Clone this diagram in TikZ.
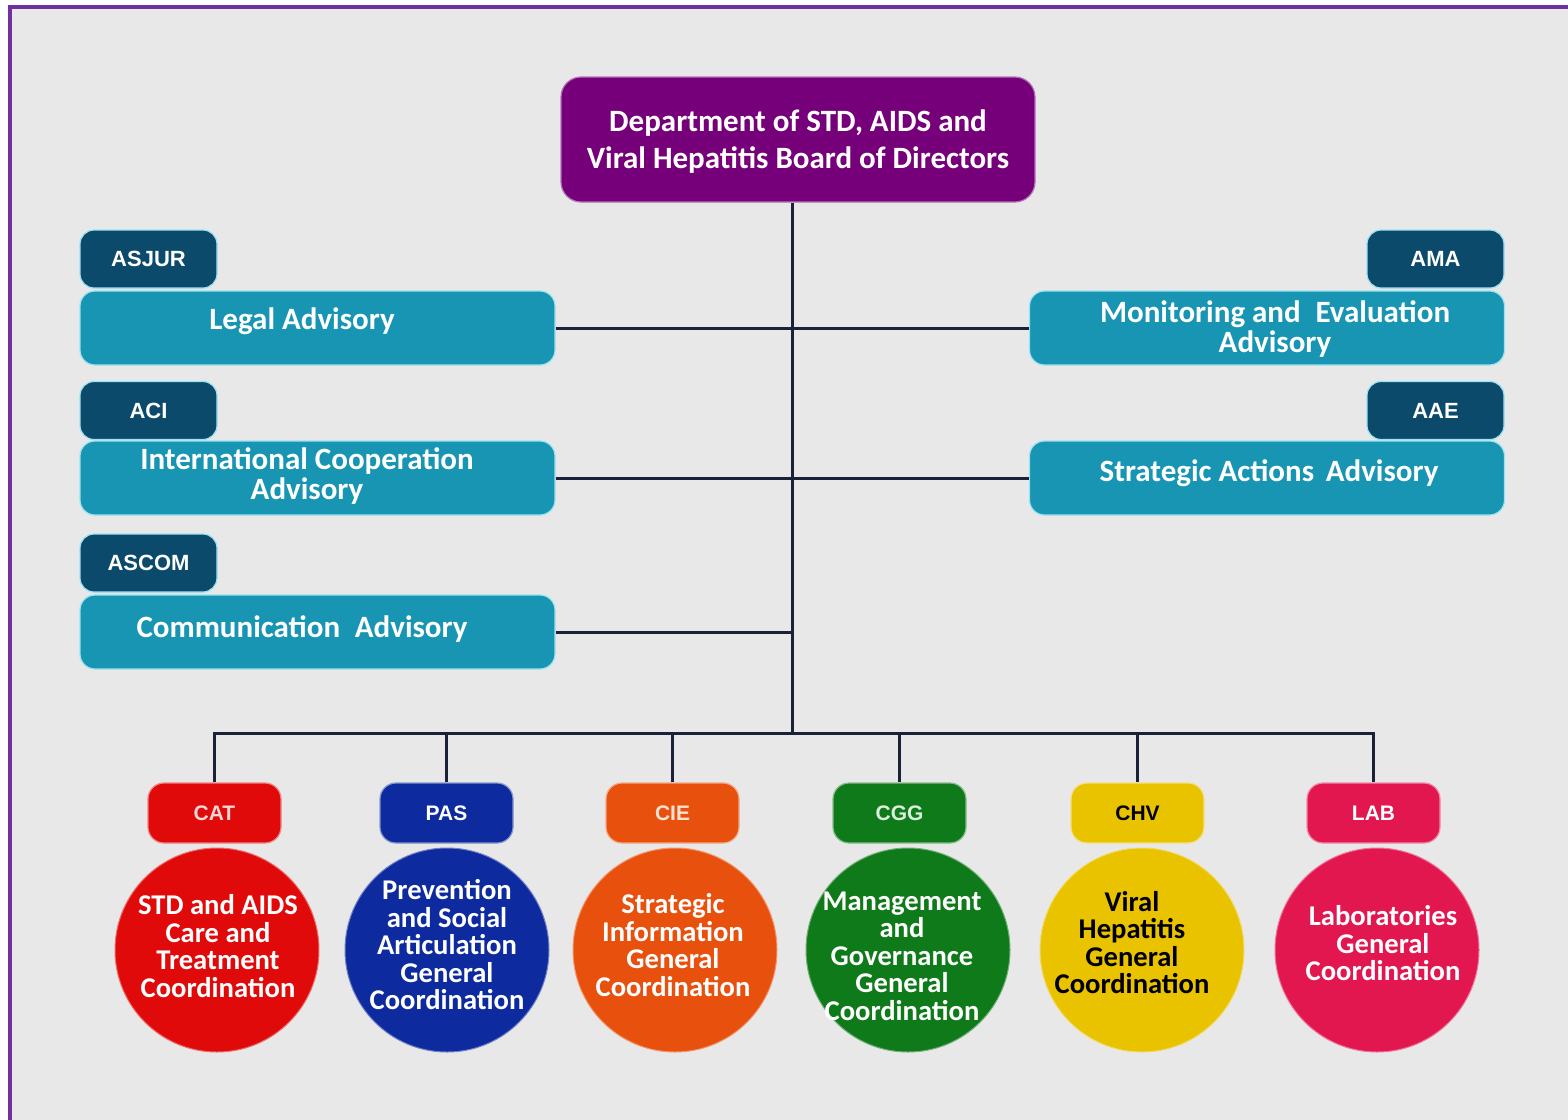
\documentclass[tikz,border=0pt]{standalone}
\usepackage{fontspec}
\setmainfont{Carlito}
\newfontfamily\arialf{Liberation Sans}
\definecolor{bgc}{HTML}{E8E8E8}
\definecolor{framec}{HTML}{7030A0}
\definecolor{topc}{HTML}{75007A}
\definecolor{tabdark}{HTML}{0B4A6B}
\definecolor{tealc}{HTML}{1795B3}
\definecolor{tealedge}{HTML}{9BE3F0}
\definecolor{linec}{HTML}{1B2238}
\definecolor{redc}{HTML}{E00A0A}
\definecolor{bluec}{HTML}{0D2A9E}
\definecolor{orangec}{HTML}{E8500E}
\definecolor{greenc}{HTML}{0F7A1A}
\definecolor{yellowc}{HTML}{E9C200}
\definecolor{crimsonc}{HTML}{E2174F}
\begin{document}
\begin{tikzpicture}[x=0.5pt,y=-0.5pt,
  topbox/.style={rounded corners=10pt, minimum width=237pt, minimum height=62.5pt, inner sep=0,
    fill=topc, draw=topc!55!white, line width=0.6pt},
  toptext/.style={text=white, align=center, inner sep=0,
    font=\bfseries\fontsize{15.5}{18.5}\selectfont},
  tabbox/.style={rounded corners=7pt, minimum width=68.5pt, minimum height=29pt, inner sep=0,
    fill=tabdark, draw=tealedge, line width=0.6pt, text=white,
    font=\arialf\bfseries\fontsize{11}{13}\selectfont},
  advbox/.style={rounded corners=7.5pt, minimum width=237.5pt, minimum height=37pt, inner sep=0,
    fill=tealc, draw=tealedge, line width=0.6pt},
  advtext/.style={text=white, align=center, inner sep=0,
    font=\bfseries\fontsize{15.5}{15}\selectfont},
  ctab/.style={rounded corners=8pt, minimum width=66.5pt, minimum height=30pt, inner sep=0,
    fill=#1, draw=#1!50!white, line width=0.6pt,
    font=\arialf\bfseries\fontsize{10.5}{12}\selectfont},
  circ/.style={circle, minimum size=102pt, inner sep=0,
    fill=#1, draw=#1!60!white, line width=0.5pt},
  ctext/.style={align=center, inner sep=0,
    font=\bfseries\fontsize{14.3}{13.75}\selectfont},
  conn/.style={draw=linec, line width=1.5pt}]
\useasboundingbox (0,0) rectangle (1568,1119);
\clip (0,0) rectangle (1568,1119);
\fill[white] (0,0) rectangle (1568,1119);
\fill[bgc] (10,7) rectangle (1600,1150);
\draw[framec, line width=2pt] (10,7) rectangle (1600,1150);

% trunk coordinate
\coordinate (bus) at (792,733);

% top
\node[topbox] (top) at (798,139.5) {};
\node[toptext] (topt) at (798,141.5) {Department of STD, AIDS and\\Viral Hepatitis Board of Directors};

% left advisories
\node[tabbox] (asjur) at (148.5,259) {ASJUR};
\node[advbox] (legal) at (317.5,328) {};
\node[advtext] (legalt) at (302,321) {Legal Advisory};

\node[tabbox] (aci) at (148.5,410.5) {ACI};
\node[advbox] (intl) at (317.5,478) {};
\node[advtext] (intlt) at (307,476) {International Cooperation\\Advisory};

\node[tabbox] (ascom) at (148.5,563) {ASCOM};
\node[advbox] (comm) at (317.5,632) {};
\node[advtext] (commt) at (302,629) {Communication\hspace{0.25em} Advisory};

% right advisories
\node[tabbox] (ama) at (1435.5,259) {AMA};
\node[advbox] (mande) at (1267,328) {};
\node[advtext] (mandet) at (1275,329) {Monitoring and\hspace{0.25em} Evaluation\\Advisory};

\node[tabbox] (aae) at (1435.5,410.5) {AAE};
\node[advbox] (strat) at (1267,478) {};
\node[advtext] (stratt) at (1269,473) {Strategic Actions\hspace{0.15em} Advisory};

% bottom tabs
\node[ctab=redc, text={rgb,255:red,245;green,214;blue,214}] (cat) at (214.5,813) {CAT};
\node[ctab=bluec, text=white] (pas) at (446.5,813) {PAS};
\node[ctab=orangec, text={rgb,255:red,248;green,226;blue,212}] (cie) at (672.5,813) {CIE};
\node[ctab=greenc, text={rgb,255:red,222;green,240;blue,222}] (cgg) at (899.5,813) {CGG};
\node[ctab=yellowc, text=black] (chv) at (1137.5,813) {CHV};
\node[ctab=crimsonc, text=white] (lab) at (1373.5,813) {LAB};

% circles
\node[circ=redc] (catc) at (217,950) {};
\node[circ=bluec] (pasc) at (447,950) {};
\node[circ=orangec] (ciec) at (675,950) {};
\node[circ=greenc] (cggc) at (908,950) {};
\node[circ=yellowc] (chvc) at (1142,950) {};
\node[circ=crimsonc] (labc) at (1377,950) {};

\node[ctext, text=white] (catt) at (218,946) {STD and AIDS\\Care and\\Treatment\\Coordination};
\node[ctext, text=white] (past) at (447,945) {Prevention\\and Social\\Articulation\\General\\Coordination};
\node[ctext, text=white] (ciet) at (673,945) {Strategic\\Information\\General\\Coordination};
\node[ctext, text=white] (cggt) at (902,956) {Management\\and\\Governance\\General\\Coordination};
\node[ctext, text=black] (chvt) at (1132,942.5) {Viral\\Hepatitis\\General\\Coordination};
\node[ctext, text=white] (labt) at (1383,943.5) {Laboratories\\General\\Coordination};

% connectors
\draw[conn] (top.south -| bus) -- (bus);
\draw[conn] (legal.east) -- (mande.west);
\draw[conn] (intl.east) -- (strat.west);
\draw[conn] (comm.east) -- (comm.east -| bus);
\draw[conn] (cat.north) |- (bus) -| (lab.north);
\draw[conn] (pas.north) -- (pas.north |- bus);
\draw[conn] (cie.north) -- (cie.north |- bus);
\draw[conn] (cgg.north) -- (cgg.north |- bus);
\draw[conn] (chv.north) -- (chv.north |- bus);
\end{tikzpicture}
\end{document}
